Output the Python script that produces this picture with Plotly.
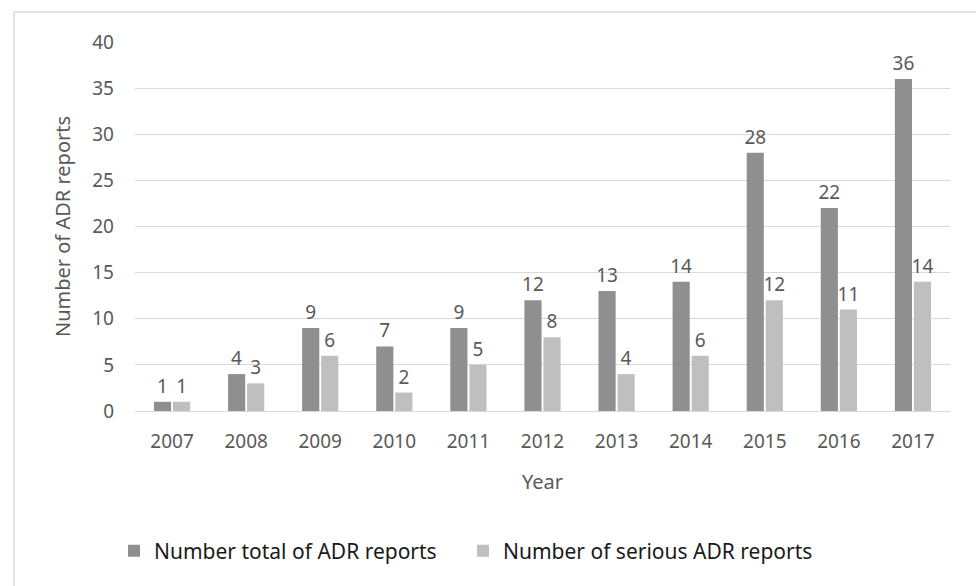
import plotly.graph_objects as go

years = ["2007", "2008", "2009", "2010", "2011", "2012", "2013", "2014", "2015", "2016", "2017"]
total_reports = [1, 4, 9, 7, 9, 12, 13, 14, 28, 22, 36]
serious_reports = [1, 3, 6, 2, 5, 8, 4, 6, 12, 11, 14]

W, H = 976, 586
L, R, T, B = 135, 26, 42, 175
pw, ph = W - L - R, H - T - B

def px(x):
    return (x - L) / pw

def py(y):
    return (H - B - y) / ph

FONT = "Noto Sans"
TXT = "#595959"

fig = go.Figure()
fig.add_trace(go.Bar(
    x=years, y=total_reports, name="Number total of ADR reports",
    marker=dict(color="#8f8f8f", line=dict(width=0)),
    text=total_reports, textposition="outside", cliponaxis=False, constraintext="none",
    textfont=dict(family=FONT, size=19, color=TXT),
))
fig.add_trace(go.Bar(
    x=years, y=serious_reports, name="Number of serious ADR reports",
    marker=dict(color="#bfbfbf", line=dict(width=0)),
    text=serious_reports, textposition="outside", cliponaxis=False, constraintext="none",
    textfont=dict(family=FONT, size=19, color=TXT),
))

fig.update_layout(
    width=W, height=H,
    margin=dict(l=L, r=R, t=T, b=B, pad=0),
    paper_bgcolor="white", plot_bgcolor="white",
    barmode="group", bargap=0.486, bargroupgap=0.1,
    font=dict(family=FONT, size=19, color=TXT),
    showlegend=True,
    legend=dict(orientation="h", x=px(114), xanchor="left", y=py(551), yanchor="middle",
                entrywidth=304, entrywidthmode="pixels",
                font=dict(family=FONT, size=21, color="#1a1a1a"),
                bgcolor="rgba(0,0,0,0)", itemclick=False),
    uniformtext=dict(minsize=19, mode="show"),
)
fig.update_yaxes(
    range=[0, 40], dtick=5, showgrid=True, gridcolor="#d9d9d9", gridwidth=1,
    zeroline=True, zerolinecolor="#d9d9d9", zerolinewidth=1,
    showline=False, ticks="", ticklabelstandoff=20,
    tickfont=dict(family=FONT, size=19, color=TXT),
    title=dict(text="Number of ADR reports", standoff=16,
               font=dict(family=FONT, size=20, color=TXT)),
)
fig.update_xaxes(
    type="category", showgrid=False, showline=True, linecolor="#d9d9d9", linewidth=1,
    ticks="", ticklabelstandoff=13,
    tickfont=dict(family=FONT, size=19, color=TXT),
    title=dict(text="Year", standoff=22, font=dict(family=FONT, size=20, color=TXT)),
)

fig.add_shape(type="line", xref="paper", yref="paper", x0=px(14), x1=px(980), y0=py(12), y1=py(12),
              line=dict(color="#d9d9d9", width=1.5))
fig.add_shape(type="line", xref="paper", yref="paper", x0=px(14), x1=px(14), y0=py(12), y1=py(600),
              line=dict(color="#d9d9d9", width=1.5))

fig.write_html("out.html")
